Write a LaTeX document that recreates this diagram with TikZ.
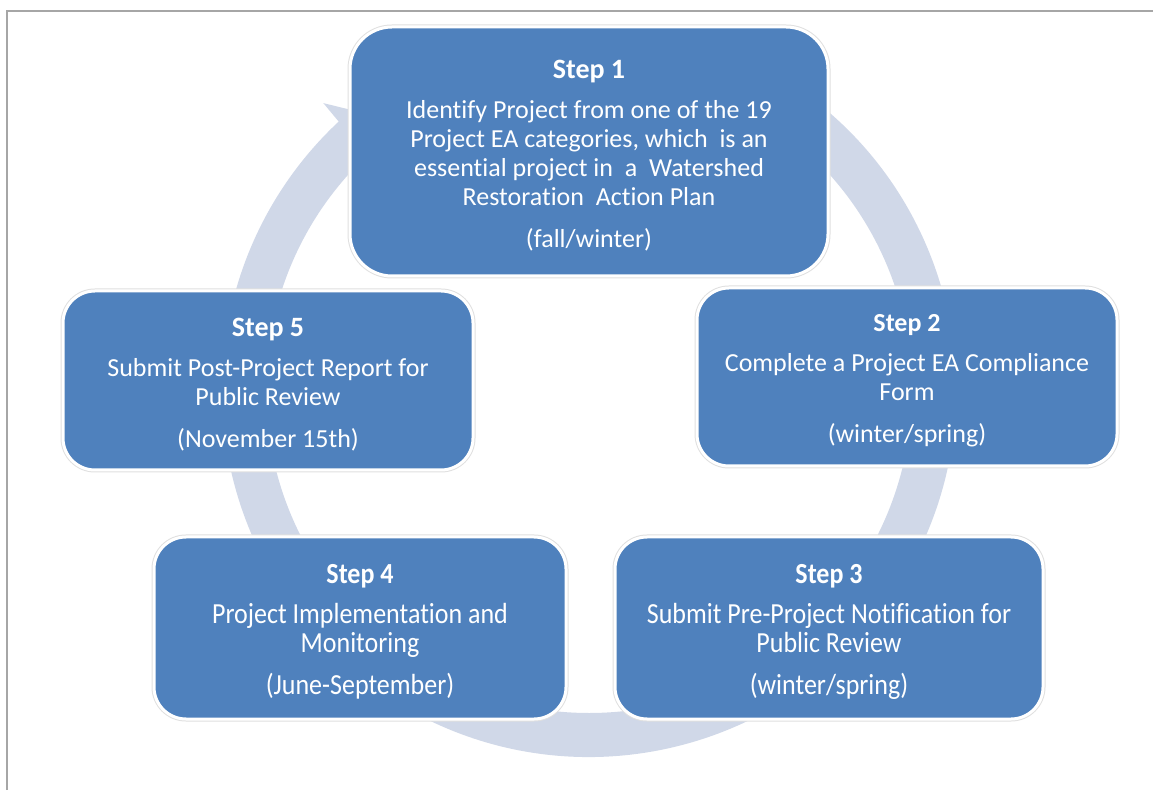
\documentclass[tikz,border=0pt]{standalone}
\usepackage{fontspec}
\setmainfont{Carlito}[Ligatures=NoCommon]
\definecolor{boxblue}{HTML}{4F81BD}
\definecolor{ringblue}{HTML}{D0D8E8}
\definecolor{framegray}{HTML}{A6A6A6}
\begin{document}
\begin{tikzpicture}[x=1pt,y=1pt,
  stepbox/.style={fill=boxblue, draw=white, line width=3pt, inner sep=0pt, outer sep=0pt,
    preaction={draw=black!12, line width=5pt}},
  steptext/.style={text=white, align=center, inner sep=0pt, font=\fontsize{26}{29}\selectfont},
  tallstep/.style={steptext, yscale=1.12, transform shape, font=\fontsize{26}{25.9}\selectfont}]
\useasboundingbox (0,0) rectangle (1153,790);
\fill[white] (0,0) rectangle (1153,790);
\draw[framegray, line width=1.5pt] (7,0) -- (7,779) -- (1153,779);
% circular arrow ring
\fill[ringblue] ([shift={(589,400)}]60:367) arc[start angle=60, end angle=-227, radius=367]
  -- ([shift={(589,400)}]-227.2:391) -- ([shift={(589,400)}]-232.4:345)
  -- ([shift={(589,400)}]-227.2:299) -- ([shift={(589,400)}]-227:323)
  arc[start angle=-227, end angle=60, radius=323] -- cycle;
% boxes
\node[stepbox, minimum width=478pt, minimum height=249pt, rounded corners=42pt] (s1) at (589,638.5) {};
\node[stepbox, minimum width=420pt, minimum height=178pt, rounded corners=32pt] (s2) at (907,413) {};
\node[stepbox, minimum width=428pt, minimum height=182pt, rounded corners=32pt] (s3) at (829,162) {};
\node[stepbox, minimum width=412pt, minimum height=182pt, rounded corners=32pt] (s4) at (360,162) {};
\node[stepbox, minimum width=410pt, minimum height=179pt, rounded corners=32pt] (s5) at (268,409.5) {};
% texts
\node[steptext] (t1) at ([yshift=-4pt]s1.center) {{\fontsize{28}{29}\selectfont\bfseries Step 1}\\[11pt]
  Identify Project from one of the 19\\
  Project EA categories, which\ \ is an\\
  essential project in\ \ a\ \ Watershed\\
  Restoration\ \ Action Plan\\[13pt]
  (fall/winter)};
\node[steptext] (t2) at ([yshift=-4pt]s2.center) {{\fontsize{26}{29}\selectfont\bfseries Step 2}\\[11pt]
  Complete a Project EA Compliance\\
  Form\\[13pt]
  (winter/spring)};
\node[tallstep] (t3) at ([yshift=-4pt]s3.center) {{\fontsize{26}{25.9}\selectfont\bfseries Step 3}\\[9.8pt]
  Submit Pre-Project Notification for\\
  Public Review\\[11.6pt]
  (winter/spring)};
\node[tallstep] (t4) at ([yshift=-4pt]s4.center) {{\fontsize{26}{25.9}\selectfont\bfseries Step 4}\\[9.8pt]
  Project Implementation and\\
  Monitoring\\[11.6pt]
  (June-September)};
\node[steptext] (t5) at ([yshift=-4pt]s5.center) {{\fontsize{28}{29}\selectfont\bfseries Step 5}\\[11pt]
  Submit Post-Project Report for\\
  Public Review\\[13pt]
  (November 15th)};
\end{tikzpicture}
\end{document}
